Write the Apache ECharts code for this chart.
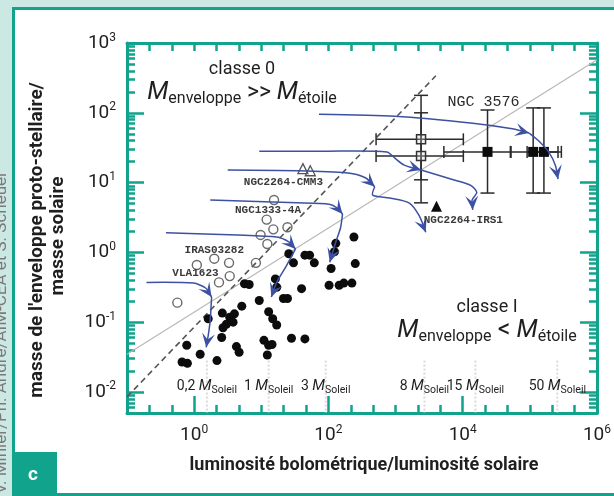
<!DOCTYPE html>
<html><head><meta charset="utf-8">
<script src="https://cdn.jsdelivr.net/npm/echarts@6/dist/echarts.min.js"></script>
<style>html,body{margin:0;padding:0;background:#fff}#c{width:614px;height:496px}</style>
</head><body><div id="c"></div>
<script>
// ---------- data (log10 values) ----------
const xTickLabels = [0, 2, 4, 6];
const yTickLabels = [-2, -1, 0, 1, 2, 3];
const X_MIN = -1, X_MAX = 6;
const Y_MIN = Math.log10(0.005), Y_MAX = 3;

// class I sources (filled circles)
const class1LogL = [-0.18,-0.10,-0.11,0.09,0.21,0.34,0.41,0.42,0.53,0.60,0.58,0.48,0.43,0.63,0.67,0.71,0.75,0.82,0.97,1.04,1.11,1.16,1.09,1.11,1.17,1.23,1.21,1.23,1.33,1.39,1.45,1.65,1.60,1.41,1.48,1.65,1.72,1.79,2.11,2.09,2.04,2.01,2.16,2.23,2.35,2.38,2.40];
const class1LogM = [-1.57,-1.59,-1.33,-1.46,-0.95,-1.55,-1.22,-0.87,-0.93,-0.88,-1.00,-1.03,-1.08,-1.35,-1.43,-0.77,-0.45,-0.46,-0.69,-1.26,-1.33,-1.32,-1.47,-0.85,-0.95,-1.04,-0.38,-0.50,-0.66,-0.66,-1.23,-1.24,-0.52,-0.02,-0.15,-0.04,-0.04,-0.15,0.13,0.01,-0.23,-0.47,-0.47,-0.44,-0.44,0.22,-0.16];
// class 0 sources (open circles)
const class0LogL = [1.19,1.08,1.18,1.39,0.99,1.09,0.92,0.30,0.52,0.04,0.53,0.37,-0.25];
const class0LogM = [0.75,0.47,0.33,0.36,0.25,0.12,-0.15,-0.09,-0.15,-0.18,-0.34,-0.43,-0.72];
// NGC2264-CMM3 (open triangles), NGC2264-IRS1 (filled triangle)
const openTriLogL = [1.62, 1.73];
const openTriLogM = [1.20, 1.17];
const fillTriLogL = [3.61];
const fillTriLogM = [0.66];
// open squares with error bars
const openSqLogL = [3.38, 3.38];
const openSqLogM = [1.62, 1.38];
const openSqLoL = [2.71, 2.71], openSqHiL = [4.01, 4.01];
const openSqLoM = [1.04, 0.71], openSqHiM = [2.25, 2.00];
// NGC 3576 filled squares with error bars
const fillSqLogL = [4.37, 5.05, 5.21];
const fillSqLogM = [1.44, 1.44, 1.44];
const fillSqLoL = [3.72, 4.71, 4.96], fillSqHiL = [4.72, 5.42, 5.47];
const fillSqLoM = [0.85, 0.85, 0.85], fillSqHiM = [2.04, 2.07, 2.07];
// evolutionary tracks (each segment ends with an arrow)
const track1a = [[1.86,1.98],[2.99,1.95],[4.15,1.85],[4.74,1.77],[4.99,1.71]];
const track1b = [[4.99,1.71],[5.13,1.60],[5.28,1.44],[5.38,1.25],[5.42,1.05]];
const track2a = [[0.97,1.45],[1.96,1.45],[2.87,1.44],[2.99,1.35],[3.13,1.25],[3.38,1.18]];
const track2b = [[3.38,1.18],[3.86,1.04],[4.12,0.96],[4.21,0.86],[4.14,0.75],[4.15,0.61]];
const track3a = [[0.50,1.18],[1.53,1.17],[2.26,1.14],[2.55,1.07],[2.69,0.94]];
const track3b = [[2.69,0.94],[2.66,0.82],[2.91,0.78],[3.20,0.71],[3.35,0.53],[3.45,0.29]];
const track4a = [[0.24,0.75],[1.53,0.71],[2.01,0.69],[2.14,0.63],[2.21,0.55]];
const track4b = [[2.21,0.55],[2.18,0.35],[2.11,0.15],[2.02,-0.14]];
const track5a = [[-0.42,0.28],[0.65,0.25],[1.23,0.22],[1.41,0.15],[1.51,0.05]];
const track5b = [[1.51,0.05],[1.37,-0.20],[1.23,-0.43],[1.15,-0.64]];
const track6a = [[-0.71,-0.43],[-0.01,-0.44],[0.17,-0.51],[0.26,-0.64]];
const track6b = [[0.26,-0.64],[0.24,-0.97],[0.21,-1.19],[0.18,-1.36]];
const trackSegments = [track1a,track1b,track2a,track2b,track3a,track3b,track4a,track4b,track5a,track5b,track6a,track6b];
// reference lines
const dashLineLogL = [-1.0, 3.6], dashLineLogM = [-2.07, 2.53];
const grayLineLogL = [-1.0, 6.0], grayLineLogM = [-1.46, 2.76];
// stellar mass markers
const massLogL = [0.19, 1.11, 1.96, 3.43, 4.19, 5.41];
const massLabels = ['0,2', '1', '3', '8', '15', '50'];
const massLineTopLogM = -1.55, massLabelLogM = -1.92;
// source labels
const srcNames = ['NGC 3576','NGC2264-CMM3','NGC1333-4A','IRAS03282','VLA1623','NGC2264-IRS1'];
const srcLogL = [4.31, 1.33, 1.10, 0.30, 0.02, 4.01];
const srcLogM = [2.15, 1.01, 0.61, 0.03, -0.30, 0.46];

// ---------- styling ----------
const TEAL = '#11a38c', LIGHT = '#cce8e2', INK = '#1f1f1f', BLUE = '#3d51a3';
const FONT = 'Roboto, "Open Sans", sans-serif';
const MONO = '"Liberation Mono", "DejaVu Sans Mono", monospace';

const xShort = []; for (let k = -2; k <= 17; k++) xShort.push(k / 3);
const yMinor = [];
for (let d = -3; d <= 2; d++) for (let k = 2; k <= 9; k++) { const v = d + Math.log10(k); if (v > Y_MIN + 0.01 && v < Y_MAX) yMinor.push(v); }

const pairs = (a, b) => a.map((v, i) => [v, b[i]]);
const expFmt = v => '{b|10}{s|' + Math.round(v) + '}';
const expRich = { b: { fontSize: 19, color: INK, fontFamily: FONT }, s: { fontSize: 12, color: INK, fontFamily: FONT, padding: [0, 0, 11, 0] } };
const tickStyle = { color: TEAL, width: 2.5 };
const lineStyle = { color: TEAL, width: 3 };

function xAx(pos, line, ticks, len, label) {
  return { type: 'value', position: pos, min: X_MIN, max: X_MAX, splitLine: { show: false },
    axisLine: { show: line, onZero: false, lineStyle }, 
    axisTick: { show: true, inside: true, length: len, lineStyle: tickStyle, customValues: ticks },
    axisLabel: label ? { show: true, customValues: xTickLabels, margin: 11, formatter: expFmt, rich: expRich } : { show: false } };
}
function yAx(pos, line, ticks, len, label) {
  return { type: 'value', position: pos, min: Y_MIN, max: Y_MAX, splitLine: { show: false },
    axisLine: { show: line, onZero: false, lineStyle },
    axisTick: { show: true, inside: true, length: len, lineStyle: tickStyle, customValues: ticks },
    axisLabel: label ? { show: true, customValues: yTickLabels, margin: 11, formatter: expFmt, rich: expRich } : { show: false } };
}

function arrowPts(p, q) {
  const a = Math.atan2(q[1] - p[1], q[0] - p[0]);
  const c = Math.cos(a), s = Math.sin(a);
  const loc = [[0, 0], [-14, -6.5], [-8, 0], [-14, 6.5]];
  return loc.map(([x, y]) => [q[0] + x * c - y * s, q[1] + x * s + y * c]);
}

function errSeries(L, M, lo, hi, mlo, mhi) {
  return { type: 'custom', z: 4, silent: true, data: pairs(L, M),
    renderItem: (params, api) => {
      const i = params.dataIndex;
      const c = api.coord([L[i], M[i]]);
      const xl = api.coord([lo[i], M[i]])[0], xh = api.coord([hi[i], M[i]])[0];
      const yt = api.coord([L[i], mhi[i]])[1], yb = api.coord([L[i], mlo[i]])[1];
      const st = { stroke: '#2a2a2a', lineWidth: 1.5 };
      const seg = (x1, y1, x2, y2) => ({ type: 'line', shape: { x1, y1, x2, y2 }, style: st });
      return { type: 'group', children: [
        seg(xl, c[1], xh, c[1]), seg(xl, c[1] - 6, xl, c[1] + 6), seg(xh, c[1] - 6, xh, c[1] + 6),
        seg(c[0], yt, c[0], yb), seg(c[0] - 7, yt, c[0] + 7, yt), seg(c[0] - 7, yb, c[0] + 7, yb)
      ] };
    } };
}

const chart = echarts.init(document.getElementById('c'));
chart.setOption({
  animation: false,
  backgroundColor: '#ffffff',
  grid: { left: 127, top: 43, width: 480, height: 370, containLabel: false },
  xAxis: [ xAx('bottom', true, xShort, 8, false), xAx('bottom', false, [0, 2, 4], 17, true), xAx('top', true, xShort, 8, false) ],
  yAxis: [ yAx('left', true, yTickLabels, 17, true), yAx('left', false, yMinor, 8, false), yAx('right', true, yTickLabels, 17, false), yAx('right', false, yMinor, 8, false) ],
  series: [
    { type: 'line', data: pairs(grayLineLogL, grayLineLogM), symbol: 'none', silent: true, z: 1, lineStyle: { color: '#b8b8b8', width: 1.2 } },
    { type: 'line', data: pairs(dashLineLogL, dashLineLogM), symbol: 'none', silent: true, z: 1, lineStyle: { color: '#555', width: 1.6, type: [6, 4] } },
    { type: 'custom', z: 1, silent: true, data: massLogL.map(x => [x, massLineTopLogM]),
      renderItem: (params, api) => {
        const i = params.dataIndex;
        const t = api.coord([massLogL[i], massLineTopLogM]);
        const b = api.coord([massLogL[i], Y_MIN]);
        const l = api.coord([massLogL[i], massLabelLogM]);
        return { type: 'group', children: [
          { type: 'line', shape: { x1: t[0], y1: t[1], x2: b[0], y2: b[1] }, style: { stroke: '#dadada', lineWidth: 2, lineDash: [2, 2] } },
          { type: 'text', z2: 5, style: { x: l[0], y: l[1], align: 'center', verticalAlign: 'middle', textAlign: 'center', textVerticalAlign: 'middle',
            text: '{n|' + massLabels[i] + ' }{m|M}{s|Soleil}',
            rich: { n: { fontSize: 14, fontFamily: FONT, fill: INK }, m: { fontSize: 15, fontStyle: 'italic', fontFamily: FONT, fill: INK }, s: { fontSize: 10.5, fontFamily: FONT, fill: INK, padding: [7, 0, 0, 0] } } } }
        ] };
      } },
    { type: 'scatter', z: 3, silent: true, data: pairs(class1LogL, class1LogM), symbol: 'circle', symbolSize: 9, itemStyle: { color: '#0c0c0c', opacity: 1 } },
    { type: 'scatter', z: 3, silent: true, data: pairs(class0LogL, class0LogM), symbol: 'circle', symbolSize: 9, itemStyle: { color: 'rgba(255,255,255,0)', borderColor: '#6a6a6a', borderWidth: 1.4, opacity: 1 } },
    { type: 'scatter', z: 3, silent: true, data: pairs(openTriLogL, openTriLogM), symbol: 'triangle', symbolSize: 10, itemStyle: { color: 'rgba(255,255,255,0)', borderColor: '#555', borderWidth: 1.3, opacity: 1 } },
    { type: 'scatter', z: 3, silent: true, data: pairs(fillTriLogL, fillTriLogM), symbol: 'triangle', symbolSize: 11, itemStyle: { color: '#0c0c0c', opacity: 1 } },
    errSeries(openSqLogL, openSqLogM, openSqLoL, openSqHiL, openSqLoM, openSqHiM),
    errSeries(fillSqLogL, fillSqLogM, fillSqLoL, fillSqHiL, fillSqLoM, fillSqHiM),
    { type: 'scatter', z: 5, silent: true, data: pairs(openSqLogL, openSqLogM), symbol: 'rect', symbolSize: 9, itemStyle: { color: 'rgba(220,220,220,0.3)', borderColor: '#333', borderWidth: 1.5, opacity: 1 } },
    { type: 'scatter', z: 5, silent: true, data: pairs(fillSqLogL, fillSqLogM), symbol: 'rect', symbolSize: 10, itemStyle: { color: '#0c0c0c', opacity: 1 } },
    { type: 'custom', z: 6, silent: true, data: trackSegments.map(s => s[0]),
      renderItem: (params, api) => {
        const seg = trackSegments[params.dataIndex];
        const pts = seg.map(p => api.coord(p));
        const n = pts.length;
        return { type: 'group', children: [
          { type: 'polyline', shape: { points: pts, smooth: 0.25 }, style: { stroke: BLUE, lineWidth: 1.5, fill: null } },
          { type: 'polygon', shape: { points: arrowPts(pts[n - 2], pts[n - 1]) }, style: { fill: BLUE } }
        ] };
      } },
    { type: 'custom', z: 7, silent: true, data: pairs(srcLogL, srcLogM),
      renderItem: (params, api) => {
        const i = params.dataIndex;
        const p = api.coord([srcLogL[i], srcLogM[i]]);
        const big = i === 0;
        return { type: 'text', style: { x: p[0], y: p[1], text: srcNames[i], align: 'center', verticalAlign: 'middle', textAlign: 'center', textVerticalAlign: 'middle',
          font: (big ? 'normal 15px ' : 'bold 11px ') + MONO, fill: big ? '#2a2a2a' : '#3a3a3a' } };
      } }
  ],
  graphic: [
    { type: 'rect', silent: true, shape: { x: 0, y: 0, width: 614, height: 7 }, style: { fill: LIGHT } },
    { type: 'rect', silent: true, shape: { x: 0, y: 0, width: 12, height: 496 }, style: { fill: LIGHT } },
    { type: 'line', silent: true, shape: { x1: 13.5, y1: 7, x2: 13.5, y2: 496 }, style: { stroke: TEAL, lineWidth: 3 } },
    { type: 'line', silent: true, shape: { x1: 12, y1: 8.5, x2: 614, y2: 8.5 }, style: { stroke: TEAL, lineWidth: 3 } },
    { type: 'line', silent: true, shape: { x1: 12, y1: 494.5, x2: 614, y2: 494.5 }, style: { stroke: TEAL, lineWidth: 3 } },
    { type: 'rect', silent: true, shape: { x: 12, y: 452, width: 45, height: 44 }, style: { fill: TEAL } },
    { type: 'text', silent: true, x: 33, y: 475, style: { text: 'c', fill: '#fff', font: 'bold 19px ' + FONT, align: 'center', verticalAlign: 'middle', textAlign: 'center', textVerticalAlign: 'middle' } },
    { type: 'text', silent: true, x: 2, y: 494, rotation: Math.PI / 2, style: { text: 'V. Minier/Ph. André/AIM-CEA et S. Scheuer', fill: '#7a7a7a', font: '17px ' + FONT, align: 'left', verticalAlign: 'middle', textAlign: 'left', textVerticalAlign: 'middle' } },
    { type: 'text', silent: true, x: 37, y: 240, rotation: Math.PI / 2, style: { text: "masse de l'enveloppe proto-stellaire/", fill: INK, font: 'bold 19px ' + FONT, align: 'center', verticalAlign: 'middle', textAlign: 'center', textVerticalAlign: 'middle' } },
    { type: 'text', silent: true, x: 58, y: 236, rotation: Math.PI / 2, style: { text: 'masse solaire', fill: INK, font: 'bold 19px ' + FONT, align: 'center', verticalAlign: 'middle', textAlign: 'center', textVerticalAlign: 'middle' } },
    { type: 'text', silent: true, x: 364, y: 465, style: { text: 'luminosité bolométrique/luminosité solaire', fill: INK, font: 'bold 18px ' + FONT, align: 'center', verticalAlign: 'middle', textAlign: 'center', textVerticalAlign: 'middle' } },
    { type: 'text', silent: true, x: 242, y: 69, style: { text: 'classe 0', fill: INK, font: '18px ' + FONT, align: 'center', verticalAlign: 'middle', textAlign: 'center', textVerticalAlign: 'middle' } },
    { type: 'text', silent: true, x: 242, y: 93, style: { text: '{M|M}{s|enveloppe}{o| >> }{M|M}{s|étoile}', align: 'center', verticalAlign: 'middle', textAlign: 'center', textVerticalAlign: 'middle',
      rich: { M: { fontSize: 25, fontStyle: 'italic', fontFamily: FONT, fill: INK }, s: { fontSize: 16, fontFamily: FONT, fill: INK, padding: [11, 0, 0, 0] }, o: { fontSize: 23, fontFamily: FONT, fill: INK } } } },
    { type: 'text', silent: true, x: 487, y: 307, style: { text: 'classe I', fill: INK, font: '18px ' + FONT, align: 'center', verticalAlign: 'middle', textAlign: 'center', textVerticalAlign: 'middle' } },
    { type: 'text', silent: true, x: 487, y: 331, style: { text: '{M|M}{s|enveloppe}{o| < }{M|M}{s|étoile}', align: 'center', verticalAlign: 'middle', textAlign: 'center', textVerticalAlign: 'middle',
      rich: { M: { fontSize: 25, fontStyle: 'italic', fontFamily: FONT, fill: INK }, s: { fontSize: 16, fontFamily: FONT, fill: INK, padding: [11, 0, 0, 0] }, o: { fontSize: 25, fontFamily: FONT, fill: INK } } } }
  ]
});
</script>
</body></html>
